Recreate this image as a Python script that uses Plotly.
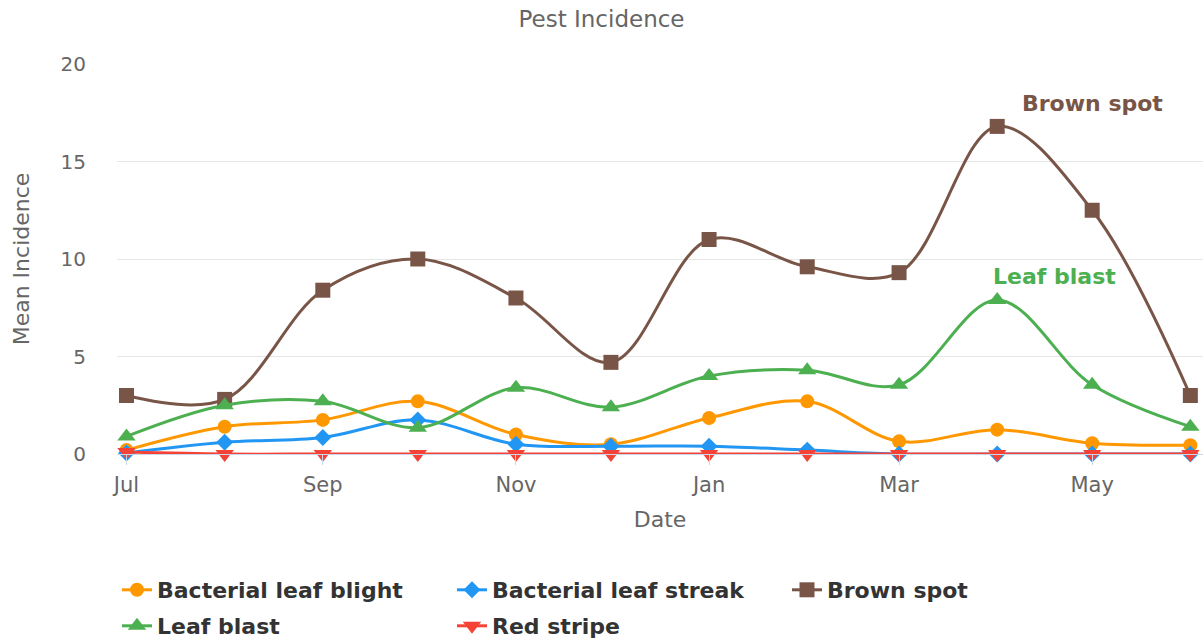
import plotly.graph_objects as go

# Monthly survey dates
dates = ["2019-07-01", "2019-08-01", "2019-09-01", "2019-10-01", "2019-11-01", "2019-12-01",
         "2020-01-01", "2020-02-01", "2020-03-01", "2020-04-01", "2020-05-01", "2020-06-01"]

# Mean incidence per pest
bacterial_leaf_blight = [0.2, 1.4, 1.75, 2.7, 1.0, 0.5, 1.85, 2.7, 0.65, 1.25, 0.55, 0.45]
bacterial_leaf_streak = [0.05, 0.6, 0.85, 1.75, 0.5, 0.4, 0.4, 0.2, 0.0, 0.0, 0.0, 0.0]
brown_spot = [3.0, 2.8, 8.4, 10.0, 8.0, 4.7, 11.0, 9.6, 9.3, 16.8, 12.5, 3.0]
leaf_blast = [0.9, 2.5, 2.7, 1.35, 3.4, 2.4, 4.0, 4.3, 3.55, 7.9, 3.55, 1.4]
red_stripe = [0.1, 0.0, 0.0, 0.0, 0.0, 0.0, 0.0, 0.0, 0.0, 0.0, 0.0, 0.0]

# name, values, colour, marker symbol, marker size, legend row
series = [
    ("Bacterial leaf blight", bacterial_leaf_blight, "#FF9800", "circle", 14, "legend"),
    ("Bacterial leaf streak", bacterial_leaf_streak, "#2196F3", "diamond", 13, "legend"),
    ("Brown spot", brown_spot, "#795548", "square", 15, "legend"),
    ("Leaf blast", leaf_blast, "#4CAF50", "triangle-up", 16, "legend2"),
    ("Red stripe", red_stripe, "#F44336", "triangle-down", 16, "legend2"),
]

FONT = "DejaVu Sans"

fig = go.Figure()
for name, vals, color, symbol, size, leg in series:
    fig.add_trace(go.Scatter(
        x=dates, y=vals, name=name, mode="lines+markers",
        line=dict(color=color, width=3, shape="spline", smoothing=1.0),
        marker=dict(color=color, symbol=symbol, size=size),
        cliponaxis=False, legend=leg,
    ))

# Series labels placed beside the curves
fig.add_annotation(x="2020-05-01", y=18.0, text="Brown spot", showarrow=False,
                   font=dict(family=FONT, size=22, color="#795548", weight="bold"))
fig.add_annotation(x="2020-04-19", y=9.1, text="Leaf blast", showarrow=False,
                   font=dict(family=FONT, size=22, color="#4CAF50", weight="bold"))

legend_common = dict(
    orientation="h", x=0, xanchor="left", xref="paper",
    yref="container", yanchor="middle",
    entrywidth=290, entrywidthmode="pixels",
    font=dict(family=FONT, size=22, color="#333333", weight="bold"),
    itemwidth=30, bgcolor="rgba(0,0,0,0)",
)

fig.update_layout(
    width=1203, height=641,
    margin=dict(l=117, r=0, t=64, b=187),
    paper_bgcolor="white", plot_bgcolor="white",
    font=dict(family=FONT, color="#666666"),
    title=dict(text="Pest Incidence", x=0.5, xref="container", xanchor="center",
               y=1 - 19 / 641, yref="container", yanchor="middle",
               font=dict(family=FONT, size=23, color="#666666")),
    xaxis=dict(
        type="date", range=["2019-06-28", "2020-06-05"],
        tick0="2019-07-01", dtick="M2", tickformat="%b",
        showgrid=False, zeroline=False,
        showline=True, linecolor="#ccd6eb", linewidth=1,
        ticks="outside", ticklen=10, tickcolor="#ccd6eb",
        tickfont=dict(family=FONT, size=21, color="#666666"),
        ticklabelstandoff=2,
        title=dict(text="Date", font=dict(family=FONT, size=22, color="#666666"), standoff=15),
    ),
    yaxis=dict(
        range=[0, 20], dtick=5, showgrid=True, gridcolor="#e6e6e6", gridwidth=1,
        zeroline=False, showline=False,
        tickfont=dict(family=FONT, size=20, color="#666666"),
        ticklabelstandoff=30,
        title=dict(text="Mean Incidence", font=dict(family=FONT, size=22, color="#666666"), standoff=24),
    ),
    legend=dict(y=1 - 590 / 641, **legend_common),
    legend2=dict(y=1 - 626 / 641, **legend_common),
)

fig.write_html("out.html")
